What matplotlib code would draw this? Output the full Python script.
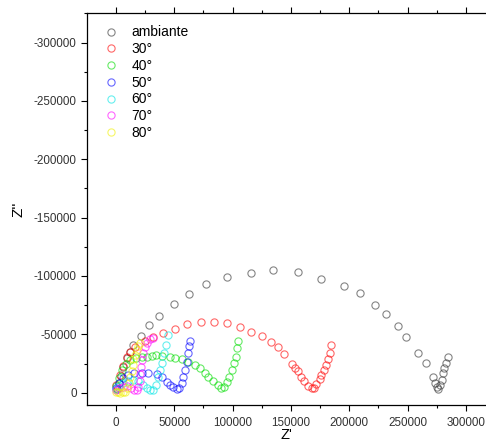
import matplotlib
matplotlib.use('Agg')
import matplotlib.pyplot as plt
from matplotlib.ticker import MultipleLocator

plt.rcParams['font.family'] = ['Liberation Sans', 'DejaVu Sans']
plt.rcParams['axes.unicode_minus'] = False

amb_re = [1000, 2500, 4000, 6260, 9180, 12000, 14840, 21440, 28560, 37130, 49480, 62340,
          77440, 95200, 116200, 134800, 155800, 175800, 195300, 209000, 222100, 231800,
          242100, 249000, 259300, 266100, 271900, 273800, 275000, 276100, 277900, 279300,
          280700, 281500, 283300, 284700]
amb_im = [-3000, -8000, -14000, -22300, -29500, -35200, -40900, -48900, -58100, -66000,
          -76100, -84900, -93500, -99000, -102200, -105100, -103300, -97800, -91500, -85200,
          -75500, -67700, -57500, -48000, -33800, -25200, -13700, -8600, -5100, -3400, -6600,
          -10900, -16600, -20900, -25700, -30900]

t30_re = [430, 3430, 6000, 9180, 12000, 16300, 24900, 31500, 40600, 50600, 61100, 72900,
          84300, 95200, 106600, 116200, 124800, 132900, 139100, 144100, 150900, 153500,
          156300, 158400, 161500, 164900, 167800, 170100, 171500, 175000, 176100, 178400,
          180400, 181600, 183500, 184400]
t30_im = [-6600, -15200, -22900, -30900, -35200, -39400, -44600, -48000, -50900, -54900,
          -58900, -60900, -60400, -59500, -56600, -52300, -48600, -43300, -38800, -33200,
          -24400, -20900, -18600, -13200, -10300, -5700, -3800, -4300, -7500, -11500,
          -15200, -19500, -23800, -28600, -33800, -40900]

t40_re = [430, 2600, 5100, 8600, 12000, 17200, 22300, 26300, 30600, 34300, 39200, 46300,
          50600, 56300, 62000, 67800, 72000, 76300, 79200, 83400, 87200, 90000, 92900,
          94900, 97200, 99200, 101200, 102700, 103500, 104900]
t40_im = [-5700, -12600, -19500, -24600, -28000, -29800, -30600, -30900, -31500, -31900,
          -31500, -30400, -29500, -28600, -26600, -23800, -20900, -17200, -13700, -10000,
          -6600, -3800, -5100, -9200, -13700, -19500, -25200, -30900, -38100, -44600]

t50_re = [430, 2600, 6000, 10300, 15400, 22000, 27700, 34900, 39200, 43500, 46300, 49100,
          52100, 54300, 56300, 57700, 59200, 60600, 62000, 62900, 63500]
t50_im = [-4000, -8300, -12200, -14800, -16500, -17200, -16900, -16000, -13700, -9400,
          -7000, -5100, -2900, -3800, -8100, -13500, -19500, -26300, -34000, -40000, -44600]

t60_re = [430, 2600, 6000, 10300, 14600, 18900, 23400, 26300, 29200, 32000, 34300, 36300,
          37700, 39200, 41200, 42900, 44300]
t60_im = [-3200, -5700, -8300, -10000, -10500, -9600, -6600, -3800, -2100, -2600, -6600,
          -13700, -19500, -25700, -33800, -40900, -49500]

t70_re = [430, 2600, 6000, 9400, 12900, 15400, 17600, 19100, 20200, 20800, 21400, 22300,
          23400, 24900, 26800, 29200, 32000]
t70_im = [-2300, -3600, -4900, -5300, -4000, -2100, -1900, -4900, -10000, -16000, -22000,
          -28000, -34000, -39200, -43000, -45600, -46500]

t80_re = [0, 1700, 3400, 5600, 7700, 9700, 11400, 12400, 13300, 14200, 15000, 16300,
          17600, 18900, 20200]
t80_im = [-1000, -300, 0, -200, -1000, -4000, -8700, -13500, -18600, -23800, -28500,
          -32300, -36200, -39600, -43000]

series = [
    ('ambiante', amb_re, amb_im, '#333333'),
    ('30°', t30_re, t30_im, '#ff0000'),
    ('40°', t40_re, t40_im, '#00dd00'),
    ('50°', t50_re, t50_im, '#0000ff'),
    ('60°', t60_re, t60_im, '#00e5e5'),
    ('70°', t70_re, t70_im, '#ff00ff'),
    ('80°', t80_re, t80_im, '#f0f000'),
]

fig = plt.figure(figsize=(4.86, 4.44), dpi=100)
ax = fig.add_axes([0.179, 0.088, 0.821, 0.883])

for label, re, im, color in series:
    ax.plot(re, im, linestyle='none', marker='o', markersize=5.2,
            markerfacecolor='none', markeredgecolor=color, markeredgewidth=0.8,
            alpha=0.6, label=label)

ax.set_xlim(-24870, 317300)
ax.set_ylim(10500, -325500)

ax.xaxis.set_major_locator(MultipleLocator(50000))
ax.xaxis.set_minor_locator(MultipleLocator(25000))
ax.yaxis.set_major_locator(MultipleLocator(50000))
ax.yaxis.set_minor_locator(MultipleLocator(25000))
ax.tick_params(which='both', direction='out', top=True, labelsize=8.4,
               labelcolor='#333333', width=0.8)
ax.tick_params(which='major', length=4)
ax.tick_params(which='minor', length=2.5)
ax.tick_params(axis='x', which='major', pad=5)
ax.spines['right'].set_visible(False)
for s in ['left', 'bottom', 'top']:
    ax.spines[s].set_linewidth(0.9)

ax.set_xlabel("Z'", fontsize=10.5)
ax.xaxis.set_label_coords(0.5, -0.059)
ax.xaxis.label.set_verticalalignment('top')
ax.set_ylabel("Z''", fontsize=11, labelpad=6)

leg = ax.legend(loc='upper left', frameon=False, fontsize=10, handletextpad=0.6,
                labelspacing=0.2, borderaxespad=0.5, handlelength=1.7)
for h in leg.legend_handles:
    h.set_alpha(0.6)

fig.savefig('out.png', dpi=100)
